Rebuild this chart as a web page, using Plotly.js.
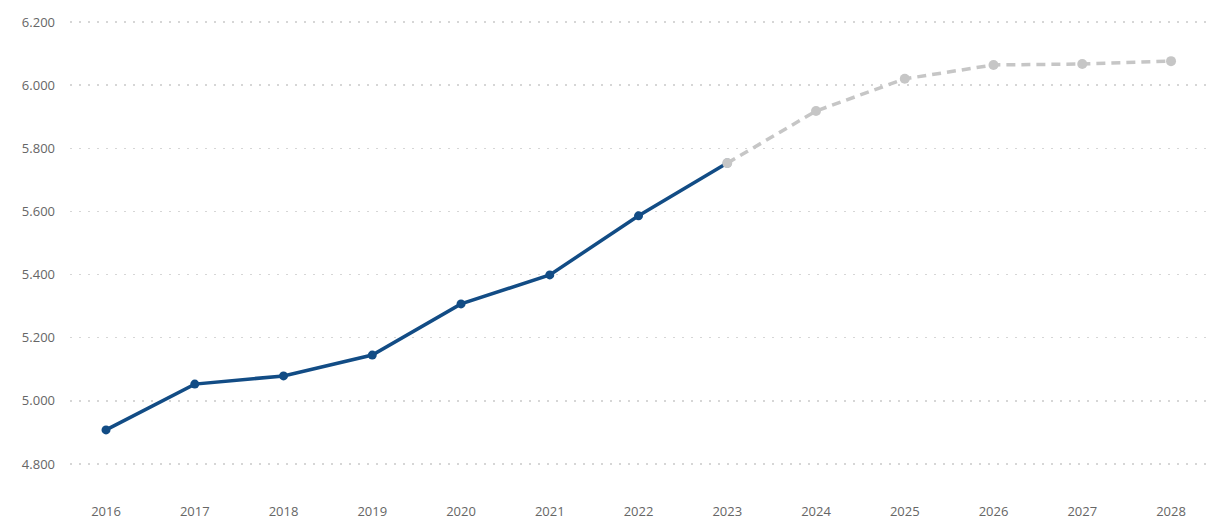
<!DOCTYPE html>
<html><head><meta charset="utf-8">
<script src="https://cdn.plot.ly/plotly-3.0.1.min.js"></script>
<style>html,body{margin:0;padding:0;background:#fff}#c{width:1218px;height:526px}</style>
</head><body><div id="c"></div>
<script>
const yearsActual = [2016, 2017, 2018, 2019, 2020, 2021, 2022, 2023];
const valuesActual = [4908, 5053, 5079, 5145, 5307, 5399, 5586, 5753];
const yearsForecast = [2023, 2024, 2025, 2026, 2027, 2028];
const valuesForecast = [5753, 5918, 6020, 6064, 6067, 6076];
const xTicks = [2016, 2017, 2018, 2019, 2020, 2021, 2022, 2023, 2024, 2025, 2026, 2027, 2028];
const yTicks = [4800, 5000, 5200, 5400, 5600, 5800, 6000, 6200];

const traces = [
  {x: yearsActual, y: valuesActual, type: 'scatter', mode: 'lines+markers',
   line: {color: '#124C85', width: 3.5}, marker: {color: '#124C85', size: 9}, hoverinfo: 'x+y'},
  {x: yearsForecast, y: valuesForecast, type: 'scatter', mode: 'lines+markers',
   line: {color: '#C6C6C6', width: 3.5, dash: '9px,6px'}, marker: {color: '#C6C6C6', size: 10}, hoverinfo: 'x+y'}
];
const layout = {
  width: 1218, height: 526,
  margin: {l: 70, r: 12, t: 10, b: 36},
  paper_bgcolor: '#fff', plot_bgcolor: '#fff',
  showlegend: false,
  separators: ',.',
  font: {family: 'Open Sans, Noto Sans, sans-serif', size: 13, color: '#666'},
  xaxis: {range: [2015.594, 2028.394], tickvals: xTicks, ticktext: xTicks.map(String),
          showgrid: false, zeroline: false, showline: false, ticks: '', ticklabelstandoff: 12,
          tickfont: {size: 13, color: '#666'}},
  yaxis: {range: [4717.6, 6238], tickvals: yTicks, tickformat: ',.0f',
          showgrid: true, gridcolor: '#d6d6d6', gridwidth: 1.5, griddash: '1.5px,7.5px',
          zeroline: false, showline: false, ticks: '', ticklabelstandoff: 14,
          tickfont: {size: 13, color: '#666'}}
};
Plotly.newPlot('c', traces, layout, {displayModeBar: false, staticPlot: true});
</script></body></html>
